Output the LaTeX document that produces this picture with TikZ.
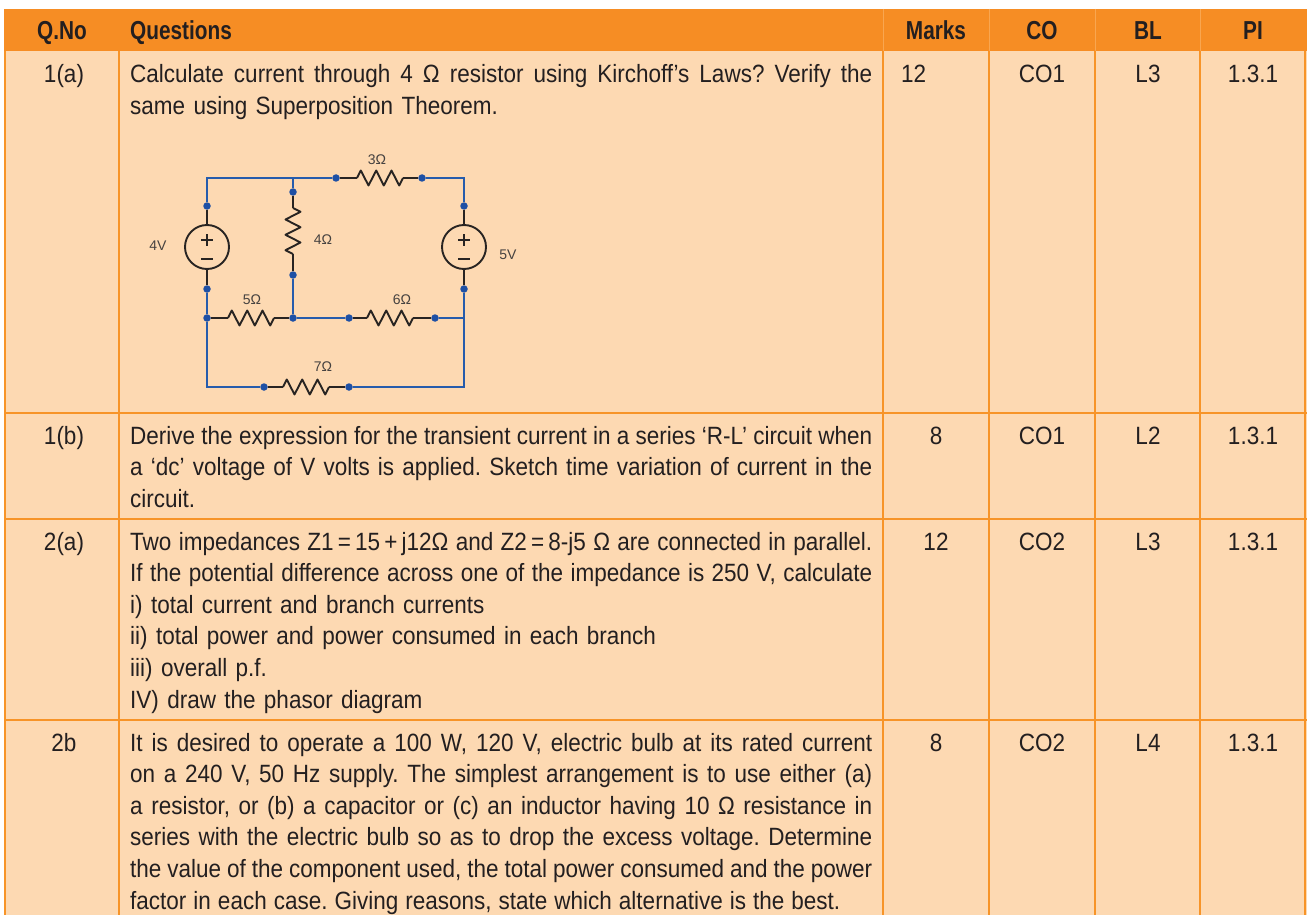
\documentclass[tikz,border=0pt]{standalone}
\usepackage{fontspec}
\setmainfont{Liberation Sans}[FakeStretch=0.9, BoldFeatures={FakeStretch=0.8}]
\newfontfamily\lblfont{Liberation Sans}
\definecolor{hdr}{RGB}{246,141,36}
\definecolor{bodyc}{RGB}{253,217,178}
\definecolor{bordc}{RGB}{247,148,40}
\definecolor{hdrsep}{RGB}{249,166,80}
\definecolor{ink}{RGB}{35,31,32}
\definecolor{wireblue}{RGB}{38,92,172}
\definecolor{dotblue}{RGB}{30,80,165}
\definecolor{leadc}{RGB}{40,36,34}
\definecolor{lblc}{RGB}{70,66,64}
\newcommand\qjust[1]{\makebox[742pt][s]{\spaceskip=0.278em plus 0.6em minus 0.12em\xspaceskip=0pt\relax #1}}
\newcommand\qtight[1]{\makebox[710pt][s]{\spaceskip=0.278em plus 0.6em minus 0.12em\xspaceskip=0pt\relax #1}}
\frenchspacing
\begin{document}
\begin{tikzpicture}[x=1pt,y=-1pt,
  wire/.style={draw=wireblue, line width=2.2pt},
  lead/.style={draw=leadc, line width=1.9pt, line join=round},
  dot/.style={circle, fill=dotblue, inner sep=0pt, minimum size=7.5pt},
  src/.style={circle, draw=leadc, line width=1.9pt, inner sep=0pt, minimum size=44pt},
  gridl/.style={draw=bordc, line width=1.6pt},
  txt/.style={anchor=base west, inner sep=0pt, text width=742pt, text=ink, font=\frenchspacing\fontsize{25}{31.6}\selectfont},
  num/.style={anchor=base, inner sep=0pt, text=ink, font=\fontsize{25}{31.6}\selectfont},
  hd/.style={anchor=base, inner sep=0pt, text=ink, font=\fontsize{26}{30}\selectfont\bfseries},
  lbl/.style={inner sep=0pt, text=lblc, font=\lblfont\fontsize{14}{14}\selectfont},
  pics/zz/.style={code={\draw[lead] (0,0) -- (3.8,-7.5) -- (11.5,7.5) -- (19.2,-7.5) -- (26.8,7.5) -- (34.5,-7.5) -- (42.2,7.5) -- (46,0);}}
]
\useasboundingbox (0,0) rectangle (1307,915);
\fill[white] (0,0) rectangle (1307,915);
% table background
\fill[hdr] (4,9) rectangle (1307,51);
\fill[bodyc] (4,51) rectangle (1307,915);
% header separators
\foreach \xx in {883,989,1095,1200} \draw[hdrsep, line width=1pt] (\xx,9) -- (\xx,51);
% grid
\foreach \xx in {5,119,883,989,1095,1200,1305} \draw[gridl] (\xx,51) -- (\xx,915);
\foreach \yy in {412.7,519,720} \draw[gridl] (4,\yy) -- (1307,\yy);
% header texts
\node[hd] (hqno) at (62,40) {Q.No};
\node[hd, anchor=base west] (hq) at (130,40) {Questions};
\node[hd] (hmk) at (936,40) {Marks};
\node[hd] (hco) at (1042,40) {CO};
\node[hd] (hbl) at (1148,40) {BL};
\node[hd] (hpi) at (1253,40) {PI};
% row 1(a)
\node[num] (n1a) at (64,83) {1(a)};
\node[txt] (q1a) at (130,83) {\qjust{Calculate current through 4 Ω resistor using Kirchoff’s Laws? Verify the}\\same using Superposition Theorem.};
\node[num, anchor=base west] (m1a) at (901,83) {12};
\node[num] (c1a) at (1042,83) {CO1};
\node[num] (b1a) at (1148,83) {L3};
\node[num] (p1a) at (1253,83) {1.3.1};
% row 1(b)
\node[num] (n1b) at (64,444) {1(b)};
\node[txt] (q1b) at (130,444) {\qjust{Derive the expression for the transient current in a series ‘R-L’ circuit when}\\\qjust{a ‘dc’ voltage of V volts is applied. Sketch time variation of current in the}\\circuit.};
\node[num] (m1b) at (936,444) {8};
\node[num] (c1b) at (1042,444) {CO1};
\node[num] (b1b) at (1148,444) {L2};
\node[num] (p1b) at (1253,444) {1.3.1};
% row 2(a)
\node[num] (n2a) at (64,550) {2(a)};
\node[txt] (q2a) at (130,550) {\qjust{Two impedances Z1\,=\,15\,+\,j12Ω and Z2\,=\,8-j5 Ω are connected in parallel.}\\\qjust{If the potential difference across one of the impedance is 250 V, calculate}\\i) total current and branch currents\\ii) total power and power consumed in each branch\\iii) overall p.f.\\IV) draw the phasor diagram};
\node[num] (m2a) at (936,550) {12};
\node[num] (c2a) at (1042,550) {CO2};
\node[num] (b2a) at (1148,550) {L3};
\node[num] (p2a) at (1253,550) {1.3.1};
% row 2b
\node[num] (n2b) at (64,751) {2b};
\node[txt] (q2b) at (130,751) {\qjust{It is desired to operate a 100 W, 120 V, electric bulb at its rated current}\\\qjust{on a 240 V, 50 Hz supply. The simplest arrangement is to use either (a)}\\\qjust{a resistor, or (b) a capacitor or (c) an inductor having 10 Ω resistance in}\\\qjust{series with the electric bulb so as to drop the excess voltage. Determine}\\\qjust{the value of the component used, the total power consumed and the power}\\\qtight{factor in each case. Giving reasons, state which alternative is the best.}};
\node[num] (m2b) at (936,751) {8};
\node[num] (c2b) at (1042,751) {CO2};
\node[num] (b2b) at (1148,751) {L4};
\node[num] (p2b) at (1253,751) {1.3.1};
% ---- circuit ----
\coordinate (tl) at (207,178);
\coordinate (tm) at (293,178);
\coordinate (tr) at (464,178);
\coordinate (mr) at (464,318);
\coordinate (bl) at (207,387);
\coordinate (br) at (464,387);
\node[dot] (s1t) at (207,206) {};
\node[dot] (s1b) at (207,289) {};
\node[dot] (s2t) at (464,206) {};
\node[dot] (s2b) at (464,289) {};
\node[dot] (jl) at (207,318) {};
\node[dot] (jm) at (293,318) {};
\node[dot] (r3a) at (336,178) {};
\node[dot] (r3b) at (422,178) {};
\node[dot] (r4a) at (293,192) {};
\node[dot] (r4b) at (293,275) {};
\node[dot] (r6a) at (349,318) {};
\node[dot] (r6b) at (435,318) {};
\node[dot] (r7a) at (264,387) {};
\node[dot] (r7b) at (349,387) {};
\node[src] (v1) at (207,247) {};
\node[src] (v2) at (464,247) {};
\coordinate (z3a) at (357,178); \coordinate (z3b) at (403,178);
\coordinate (z4a) at (293,208); \coordinate (z4b) at (293,254);
\coordinate (z5a) at (228,318); \coordinate (z5b) at (274,318);
\coordinate (z6a) at (367,318); \coordinate (z6b) at (413,318);
\coordinate (z7a) at (283,387); \coordinate (z7b) at (329,387);
% blue wires
\draw[wire] (s1t) -- (tl) -- (tm) -- (r3a);
\draw[wire] (r3b) -- (tr) -- (s2t);
\draw[wire] (tm) -- (r4a);
\draw[wire] (r4b) -- (jm);
\draw[wire] (s1b) -- (jl);
\draw[wire] (jl) -- (bl) -- (r7a);
\draw[wire] (r7b) -- (br) -- (mr) -- (s2b);
\draw[wire] (jm) -- (r6a);
\draw[wire] (r6b) -- (mr);
% dark leads
\draw[lead] (s1t) -- (v1);
\draw[lead] (v1) -- (s1b);
\draw[lead] (s2t) -- (v2);
\draw[lead] (v2) -- (s2b);
\draw[lead] (r3a) -- (z3a); \draw[lead] (z3b) -- (r3b);
\draw[lead] (r4a) -- (z4a); \draw[lead] (z4b) -- (r4b);
\draw[lead] (jl) -- (z5a); \draw[lead] (z5b) -- (jm);
\draw[lead] (r6a) -- (z6a); \draw[lead] (z6b) -- (r6b);
\draw[lead] (r7a) -- (z7a); \draw[lead] (z7b) -- (r7b);
% zigzags
\pic at (z3a) {zz};
\pic[rotate=-90] at (z4a) {zz};
\pic at (z5a) {zz};
\pic at (z6a) {zz};
\pic at (z7a) {zz};
% plus / minus signs
\draw[lead, line width=1.4pt] (201,240) -- (213,240) (207,234) -- (207,246) (201,259) -- (213,259);
\draw[lead, line width=1.4pt] (458,240) -- (470,240) (464,234) -- (464,246) (458,259) -- (470,259);
% labels
\node[lbl] (l3) at (377,160) {3Ω};
\node[lbl] (l4) at (323,240) {4Ω};
\node[lbl] (l4v) at (158,246) {4V};
\node[lbl] (l5v) at (508,255) {5V};
\node[lbl] (l5) at (252,300) {5Ω};
\node[lbl] (l6) at (402,300) {6Ω};
\node[lbl] (l7) at (323,367) {7Ω};
\end{tikzpicture}
\end{document}
